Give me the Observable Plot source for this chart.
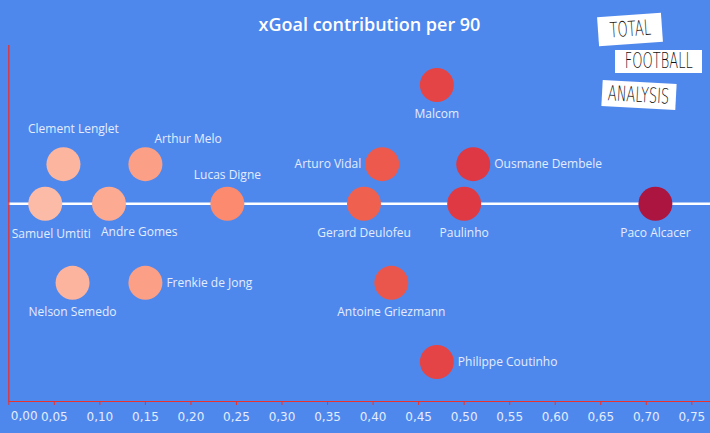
<!DOCTYPE html>
<html><head><meta charset="utf-8">
<script src="https://cdn.jsdelivr.net/npm/d3@7"></script>
<script src="https://cdn.jsdelivr.net/npm/@observablehq/plot@0.6"></script>
<style>
body{margin:0;background:#4f88ec;}
#wrap{position:relative;width:710px;height:433px;background:#4f88ec;overflow:hidden;font-family:"Open Sans",sans-serif;}
#title{position:absolute;top:11px;left:0;width:739px;text-align:center;color:#fff;font-size:18px;font-weight:600;line-height:26px;}
#chart{position:absolute;left:0;top:0;}
.logo{position:absolute;background:#fff;color:#111;font-family:"DejaVu Sans",sans-serif;font-size:21px;line-height:1;display:flex;align-items:center;justify-content:center;overflow:hidden;}
.logo span{display:inline-block;transform:scaleX(0.62);white-space:nowrap;font-weight:300;}
</style></head>
<body>
<div id="wrap">
  <div id="chart"></div>
  <div id="title">xGoal contribution per 90</div>
  <div class="logo" style="left:598px;top:15px;width:64px;height:29px;transform:rotate(-4deg);"><span>TOTAL</span></div>
  <div class="logo" style="left:615px;top:50px;width:87px;height:23px;"><span>FOOTBALL</span></div>
  <div class="logo" style="left:602px;top:82px;width:74px;height:26px;transform:rotate(3deg);"><span>ANALYSIS</span></div>
</div>
<script>
const players = ["Malcom","Clement Lenglet","Arthur Melo","Arturo Vidal","Ousmane Dembele","Samuel Umtiti","Andre Gomes","Lucas Digne","Gerard Deulofeu","Paulinho","Paco Alcacer","Nelson Semedo","Frenkie de Jong","Antoine Griezmann","Philippe Coutinho"];
const xgc = [0.47,0.06,0.15,0.41,0.51,0.04,0.11,0.24,0.39,0.50,0.71,0.07,0.15,0.42,0.47];
const row = [1.5,0.5,0.5,0.5,0.5,0,0,0,0,0,0,-1,-1,-1,-2];
const placement = ["below","aboveHigh","aboveRight","left","right","belowEdge","belowRight","above","below","below","below","below","right","below","right"];
const xTicks = [0,0.05,0.10,0.15,0.20,0.25,0.30,0.35,0.40,0.45,0.50,0.55,0.60,0.65,0.70,0.75];

const data = players.map((p,i)=>({player:p, xgc:xgc[i], row:row[i], placement:placement[i]}));
const fmt = d => d.toFixed(2).replace(".", ",");
const red = "#e8322f";
const labelColor = "#e4ecff";
const offsets = {
  below:[0,29,"middle"], above:[0,-29,"middle"], right:[21,0,"start"], left:[-21,0,"end"],
  belowRight:[-8,28,"start"], aboveRight:[9,-25,"start"], aboveHigh:[10,-35,"middle"], belowEdge:[6,30,"middle"]
};
const labelMarks = Object.entries(offsets).map(([k,[dx,dy,anchor]]) =>
  Plot.text(data.filter(d=>d.placement===k), {x:"xgc", y:"row", text:"player", dx, dy, textAnchor:anchor, fill:labelColor, fontSize:12})
);

const chart = Plot.plot({
  width:710, height:433,
  marginLeft:8.3, marginRight:0, marginTop:45, marginBottom:32,
  style:{background:"transparent", color:labelColor, fontFamily:"'Open Sans', sans-serif", fontSize:"12px"},
  x:{domain:[0,0.7705]},
  y:{domain:[-2.5,2], axis:null},
  color:{type:"linear", domain:[0.04,0.24,0.39,0.50,0.71], range:["#fcbba6","#fb8a6e","#f0604f","#df3a43","#ab1540"]},
  marks:[
    Plot.ruleY([0], {stroke:"white", strokeWidth:2.5}),
    Plot.ruleX([0], {stroke:red, strokeWidth:1.3}),
    Plot.ruleY([-2.5], {stroke:red, strokeWidth:1.2}),
    Plot.axisX(xTicks, {tickSize:4, stroke:red, tickPadding:7, tickFormat:d => d===0 ? "" : fmt(d), fill:labelColor, fontFamily:"'DejaVu Sans', sans-serif", fontSize:12, label:null}),
    Plot.text([0], {x:d=>d, frameAnchor:"bottom", dy:18, dx:2, textAnchor:"start", text:fmt, fill:labelColor, fontFamily:"'DejaVu Sans', sans-serif", fontSize:12}),
    Plot.dot(data, {x:"xgc", y:"row", r:17, fill:"xgc", stroke:null}),
    ...labelMarks
  ]
});
document.getElementById("chart").appendChild(chart);
</script>
</body></html>
